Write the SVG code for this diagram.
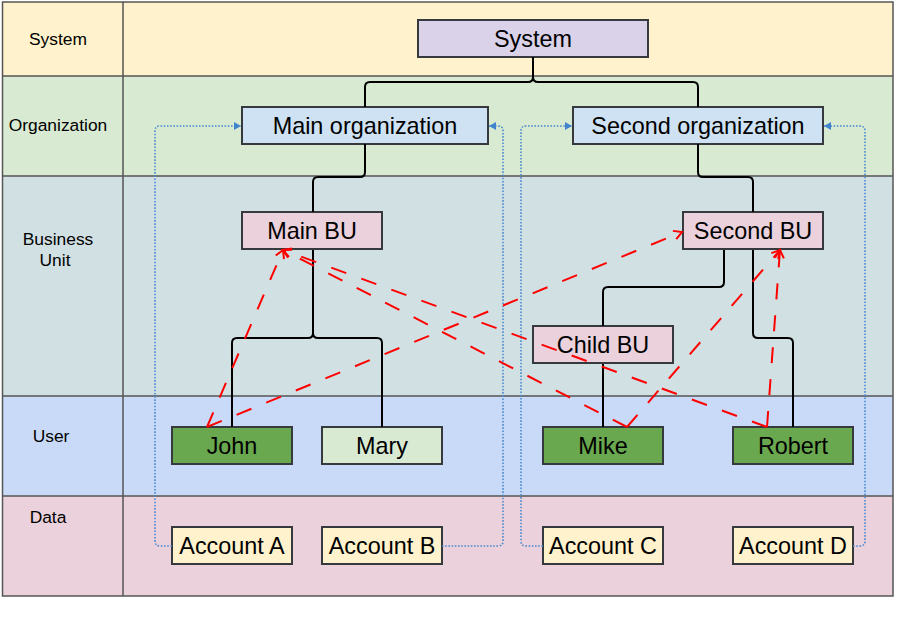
<svg xmlns="http://www.w3.org/2000/svg" width="913" height="620" viewBox="0 0 913 620">
<style>
.lane{stroke:#555;stroke-width:1.5}
.hdr{font-family:"Liberation Sans",Arial,sans-serif;font-size:17.4px;fill:#000;text-anchor:middle}
.box{stroke:#36393d;stroke-width:2}
.lbl{font-family:"Liberation Sans",Arial,sans-serif;font-size:23.4px;fill:#000;text-anchor:middle}
.tree{fill:none;stroke:#000;stroke-width:2}
.red{fill:none;stroke:#ff0000;stroke-width:2;stroke-dasharray:16 16;marker-end:url(#ra)}
.blue{fill:none;stroke:#4a8ad0;stroke-width:1.6;stroke-dasharray:1.6 1.6;marker-end:url(#ba)}
</style>
<defs>
<marker id="ra" markerUnits="userSpaceOnUse" viewBox="-10 -6 12 12" refX="0" refY="0" markerWidth="12" markerHeight="12" orient="auto">
<path d="M-8,-4.5 L0,0 L-8,4.5" fill="none" stroke="#ff0000" stroke-width="2"/>
</marker>
<marker id="ba" markerUnits="userSpaceOnUse" viewBox="-8 -5 9 10" refX="0" refY="0" markerWidth="9" markerHeight="10" orient="auto">
<path d="M-7,-4 L0,0 L-7,4 Z" fill="#3f84cc"/>
</marker>
</defs>

<g id="lanes">
<rect x="2" y="2" width="891" height="74" fill="#fff2cc"/>
<rect x="2" y="76" width="891" height="100" fill="#d9ead3"/>
<rect x="2" y="176" width="891" height="220" fill="#d1e0e3"/>
<rect x="2" y="396" width="891" height="100" fill="#c9daf8"/>
<rect x="2" y="496" width="891" height="100" fill="#ead1dc"/>
<rect x="2.5" y="2" width="890.5" height="594" fill="none" class="lane"/>
<line x1="2" y1="76" x2="893" y2="76" class="lane"/>
<line x1="2" y1="176" x2="893" y2="176" class="lane"/>
<line x1="2" y1="396" x2="893" y2="396" class="lane"/>
<line x1="2" y1="496" x2="893" y2="496" class="lane"/>
<line x1="123" y1="2" x2="123" y2="596" class="lane"/>
<text class="hdr" x="58" y="45">System</text>
<text class="hdr" x="58" y="131">Organization</text>
<text class="hdr" x="58" y="245">Business</text>
<text class="hdr" x="55" y="266">Unit</text>
<text class="hdr" x="51" y="442">User</text>
<text class="hdr" x="48" y="523">Data</text>
</g>

<g id="system"><rect class="box" x="418" y="20" width="230" height="37" fill="#d9d2e9"/><text class="lbl" x="533" y="47">System</text></g>
<g id="main-organization"><rect class="box" x="242" y="107" width="246" height="37" fill="#cfe2f3"/><text class="lbl" x="365" y="134">Main organization</text></g>
<g id="second-organization"><rect class="box" x="573" y="107" width="250" height="37" fill="#cfe2f3"/><text class="lbl" x="698" y="134">Second organization</text></g>
<g id="main-bu"><rect class="box" x="242" y="212" width="140" height="37" fill="#ead1dc"/><text class="lbl" x="312" y="239">Main BU</text></g>
<g id="second-bu"><rect class="box" x="683" y="212" width="140" height="37" fill="#ead1dc"/><text class="lbl" x="753" y="239">Second BU</text></g>
<g id="child-bu"><rect class="box" x="533" y="326" width="140" height="37" fill="#ead1dc"/><text class="lbl" x="603" y="353">Child BU</text></g>
<g id="john"><rect class="box" x="172" y="427" width="120" height="37" fill="#6aa84f"/><text class="lbl" x="232" y="454">John</text></g>
<g id="mary"><rect class="box" x="322" y="427" width="120" height="37" fill="#d9ead3"/><text class="lbl" x="382" y="454">Mary</text></g>
<g id="mike"><rect class="box" x="543" y="427" width="120" height="37" fill="#6aa84f"/><text class="lbl" x="603" y="454">Mike</text></g>
<g id="robert"><rect class="box" x="733" y="427" width="120" height="37" fill="#6aa84f"/><text class="lbl" x="793" y="454">Robert</text></g>
<g id="account-a"><rect class="box" x="172" y="527" width="120" height="37" fill="#fff2cc"/><text class="lbl" x="232" y="554">Account A</text></g>
<g id="account-b"><rect class="box" x="322" y="527" width="120" height="37" fill="#fff2cc"/><text class="lbl" x="382" y="554">Account B</text></g>
<g id="account-c"><rect class="box" x="543" y="527" width="120" height="37" fill="#fff2cc"/><text class="lbl" x="603" y="554">Account C</text></g>
<g id="account-d"><rect class="box" x="733" y="527" width="120" height="37" fill="#fff2cc"/><text class="lbl" x="793" y="554">Account D</text></g>

<g id="connectors">
<path class="tree" d="M533,57 L533,77 Q533,82 528,82 L370,82 Q365,82 365,87 L365,107"/>
<path class="tree" d="M533,57 L533,77 Q533,82 538,82 L693,82 Q698,82 698,87 L698,107"/>
<path class="tree" d="M365,144 L365,172 Q365,177 360,177 L318,177 Q313,177 313,182 L313,212"/>
<path class="tree" d="M698,144 L698,172 Q698,177 703,177 L748,177 Q753,177 753,182 L753,212"/>
<path class="tree" d="M313,250 L313,333 Q313,338 308,338 L237,338 Q232,338 232,343 L232,427"/>
<path class="tree" d="M313,250 L313,333 Q313,338 318,338 L377,338 Q382,338 382,343 L382,427"/>
<path class="tree" d="M724,250 L724,282 Q724,287 719,287 L608,287 Q603,287 603,292 L603,326"/>
<path class="tree" d="M753,250 L753,333 Q753,338 758,338 L788,338 Q793,338 793,343 L793,427"/>
<path class="tree" d="M603,364 L603,427"/>

<path class="blue" d="M172,546 L160,546 Q155,546 155,541 L155,131 Q155,126 160,126 L241,126"/>
<path class="blue" d="M442,546 L498,546 Q503,546 503,541 L503,131 Q503,126 498,126 L489,126"/>
<path class="blue" d="M543,546 L526,546 Q521,546 521,541 L521,131 Q521,126 526,126 L572,126"/>
<path class="blue" d="M853,546 L860,546 Q865,546 865,541 L865,131 Q865,126 860,126 L824,126"/>

<path class="red" d="M207,427 L283,250"/>
<path class="red" d="M207,427 L682,232"/>
<path class="red" d="M627,427 L283,250"/>
<path class="red" d="M627,427 L780,250"/>
<path class="red" d="M767,427 L283,250"/>
<path class="red" d="M767,427 L780,250"/>
</g>
</svg>
